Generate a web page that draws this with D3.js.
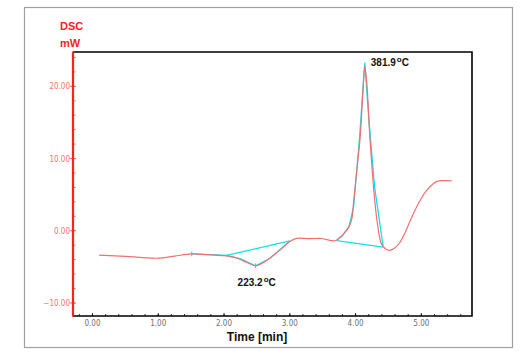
<!DOCTYPE html>
<html><head><meta charset="utf-8">
<script src="https://cdn.jsdelivr.net/npm/d3@7"></script>
<style>body{margin:0;background:#fff}svg{display:block}</style>
</head><body>
<script>
// DSC curve (time [min], mW)
const dscTime = [0.10,0.50,1.00,1.25,1.50,1.75,2.00,2.20,2.35,2.48,2.60,2.75,2.90,3.00,3.10,3.30,3.46,3.69,3.75,3.81,3.89,3.94,3.97,4.02,4.07,4.11,4.14,4.17,4.22,4.29,4.34,4.39,4.45,4.50,4.58,4.67,4.75,4.85,4.98,5.10,5.23,5.35,5.46];
const dscValue = [-3.37,-3.55,-3.80,-3.50,-3.20,-3.30,-3.45,-3.80,-4.40,-4.85,-4.40,-3.40,-2.30,-1.50,-1.05,-1.10,-1.05,-1.38,-1.00,-0.50,0.40,1.50,4.00,8.50,13.0,19.0,22.7,20.5,12.6,4.30,0.50,-1.75,-2.45,-2.70,-2.50,-1.66,-0.30,1.80,4.20,5.80,6.80,6.95,6.90];
// cyan analysis lines
const base1Time = [1.51,2.04,3.00];
const base1Value = [-3.20,-3.40,-1.40];
const fit1Time = [2.04,2.25,2.48,2.70,3.00];
const fit1Value = [-3.40,-3.90,-4.85,-3.80,-1.40];
const base2Time = [3.71,4.42];
const base2Value = [-1.35,-2.25];
const fit2Time = [3.71,3.80,3.90,3.97,4.06,4.14,4.21,4.29,4.42];
const fit2Value = [-1.35,-0.70,0.60,3.30,12.8,23.3,14.5,6.0,-2.25];
const xTicks = [0,1,2,3,4,5];
const yTicks = [-10,0,10,20];
const peakLabels = [{t:4.14, v:23.3, text:"381.9", dx:6, dy:4}, {t:2.48, v:-4.85, text:"223.2", dx:-18, dy:20}];

const W=524,H=361;
const svg=d3.select("body").append("svg").attr("width",W).attr("height",H);
const L=73,R=472,T=52,B=316;
const x=d3.scaleLinear().domain([-0.296,5.77]).range([L,R]);
const y=d3.scaleLinear().domain([-11.8,24.75]).range([B,T]);

svg.append("rect").attr("x",24.5).attr("y",7.5).attr("width",488).attr("height",340)
  .attr("fill","none").attr("stroke","#a0a0a0").attr("stroke-width",1.2);

// plot frame
svg.append("path").attr("d",`M${L},${T}H${R}V${B}H${L}`).attr("fill","none").attr("stroke","#000").attr("stroke-width",1.6);

// x axis ticks
const xMinor=d3.range(-0.2,5.75,0.2);
svg.append("g").selectAll("line").data(xMinor).join("line")
  .attr("x1",d=>x(d)).attr("x2",d=>x(d)).attr("y1",B).attr("y2",B-2)
  .attr("stroke","#000").attr("stroke-width",0.8);
svg.append("g").selectAll("line").data(xTicks).join("line")
  .attr("x1",d=>x(d)).attr("x2",d=>x(d)).attr("y1",B).attr("y2",B-3)
  .attr("stroke","#000").attr("stroke-width",0.8);
svg.append("g").selectAll("text").data(xTicks).join("text")
  .attr("x",d=>x(d)).attr("y",326).attr("text-anchor","middle")
  .attr("font-family","DejaVu Sans Condensed, DejaVu Sans").attr("font-size",8).attr("fill","#707070")
  .text(d=>d3.format(".2f")(d));

// y axis
const yMinor=d3.range(-10,25,2);
svg.append("g").selectAll("line").data(yMinor).join("line")
  .attr("x1",L).attr("x2",L+2.5).attr("y1",d=>y(d)).attr("y2",d=>y(d))
  .attr("stroke","#ff3030").attr("stroke-width",0.8);
svg.append("g").selectAll("line").data(yTicks).join("line")
  .attr("x1",L-3).attr("x2",L+2.5).attr("y1",d=>y(d)).attr("y2",d=>y(d))
  .attr("stroke","#ff3030").attr("stroke-width",0.8);
svg.append("g").selectAll("text").data(yTicks).join("text")
  .attr("x",L-3).attr("y",d=>y(d)+3).attr("text-anchor","end")
  .attr("font-family","DejaVu Sans Condensed, DejaVu Sans").attr("font-size",8).attr("fill","#ff7070")
  .text(d=>d3.format(".2f")(d));
svg.append("line").attr("x1",L).attr("x2",L).attr("y1",T-0.5).attr("y2",B+0.8)
  .attr("stroke","#ff2020").attr("stroke-width",2.2);

svg.append("text").attr("x",60).attr("y",30).attr("font-family","Liberation Sans, Arial").attr("font-weight","bold")
  .attr("font-size",11).attr("fill","#ff2020").text("DSC");
svg.append("text").attr("x",60).attr("y",47).attr("font-family","Liberation Sans, Arial").attr("font-weight","bold")
  .attr("font-size",11).attr("fill","#ff2020").text("mW");
svg.append("text").attr("x",257).attr("y",341).attr("text-anchor","middle").attr("font-family","Liberation Sans, Arial")
  .attr("font-weight","bold").attr("font-size",12).attr("fill","#111").text("Time [min]");

const line=d3.line().x(d=>x(d[0])).y(d=>y(d[1]));
const zip=(a,b)=>a.map((t,i)=>[t,b[i]]);
const cyan="#10e0f0";
[[base1Time,base1Value],[fit1Time,fit1Value],[base2Time,base2Value],[fit2Time,fit2Value]].forEach(([a,b])=>{
  svg.append("path").attr("d",line(zip(a,b))).attr("fill","none").attr("stroke",cyan).attr("stroke-width",1.3);
});
// marker ticks
[[1.51,-3.2],[2.48,-4.85]].forEach(p=>{
  svg.append("line").attr("x1",x(p[0])).attr("x2",x(p[0])).attr("y1",y(p[1])-2.5).attr("y2",y(p[1])+2.5)
    .attr("stroke",cyan).attr("stroke-width",1);
});

svg.append("path").attr("d",d3.line().x(d=>x(d[0])).y(d=>y(d[1])).curve(d3.curveCatmullRom.alpha(0.5))(zip(dscTime,dscValue)))
  .attr("fill","none").attr("stroke","#f07070").attr("stroke-width",1.2);

peakLabels.forEach(p=>{
  const t=svg.append("text").attr("x",x(p.t)+p.dx).attr("y",y(p.v)+p.dy)
    .attr("font-family","Liberation Sans, Arial").attr("font-weight","bold").attr("font-size",10).attr("fill","#111");
  t.append("tspan").text(p.text);
  t.append("tspan").attr("dy",-4).attr("font-size",8).attr("dx",1).text("o");
  t.append("tspan").attr("dy",4).text("C");
});
</script>
</body></html>
